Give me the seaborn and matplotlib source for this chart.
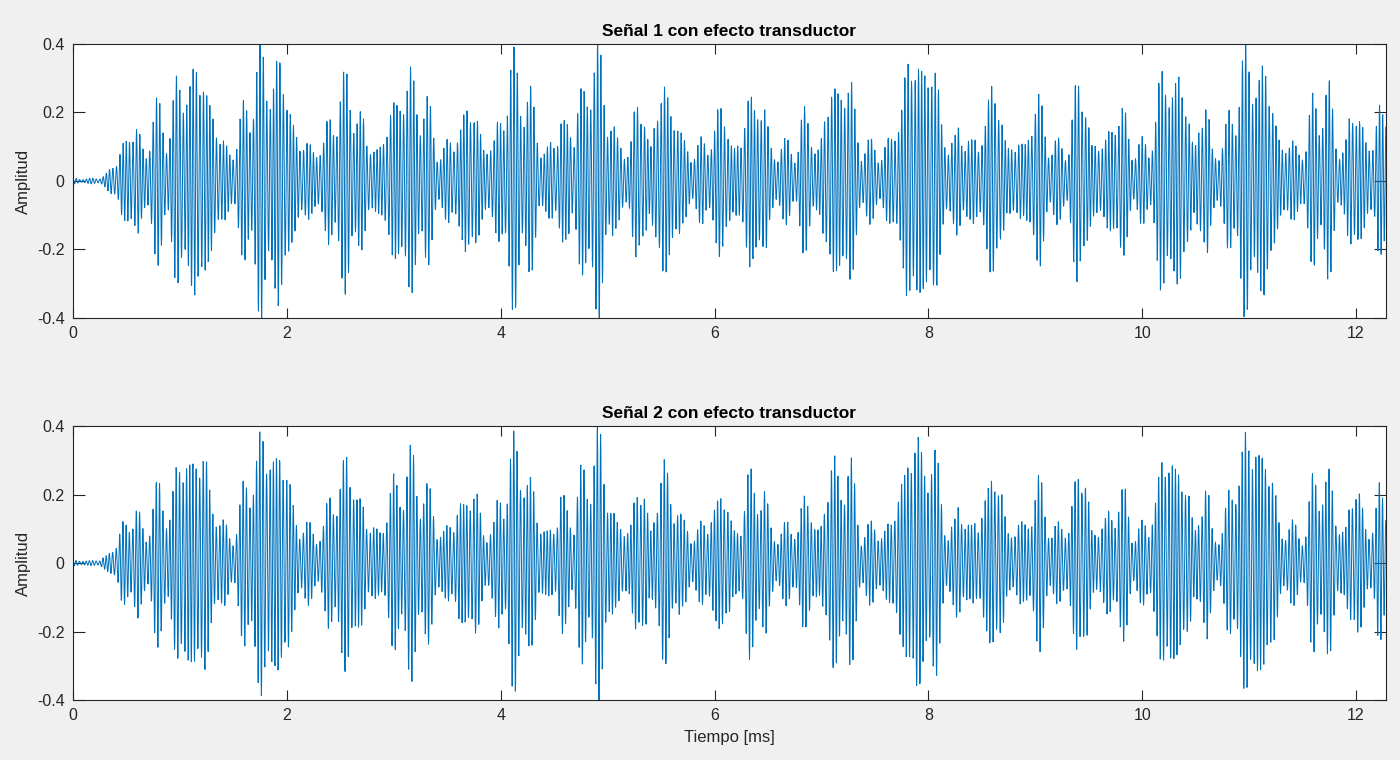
import numpy as np
import pandas as pd
import matplotlib
matplotlib.use("Agg")
import matplotlib.pyplot as plt
import seaborn as sns

# Burst envelope of each received signal: centre [ms], peak amplitude, spread [ms]
burst_center_ms = [0.55, 0.80, 1.12, 1.82, 2.55, 3.15, 3.70, 4.15, 4.60, 4.88,
                   5.30, 5.55, 6.05, 6.38, 6.85, 7.18, 7.92, 8.32, 8.60, 9.02,
                   9.42, 9.78, 10.27, 10.57, 11.03, 11.68, 12.00, 12.27]
burst_spread_ms = [0.10, 0.10, 0.20, 0.22, 0.16, 0.20, 0.13, 0.16, 0.07, 0.15,
                   0.08, 0.12, 0.11, 0.11, 0.07, 0.15, 0.20, 0.07, 0.11, 0.11,
                   0.09, 0.12, 0.16, 0.07, 0.20, 0.12, 0.09, 0.08]
peak_signal_1 = [0.16, 0.22, 0.35, 0.38, 0.30, 0.31, 0.22, 0.35, 0.21, 0.38,
                 0.23, 0.28, 0.21, 0.28, 0.20, 0.32, 0.39, 0.19, 0.27, 0.23,
                 0.29, 0.21, 0.34, 0.22, 0.38, 0.29, 0.22, 0.27]
peak_signal_2 = [0.16, 0.22, 0.35, 0.38, 0.30, 0.31, 0.22, 0.35, 0.21, 0.37,
                 0.23, 0.28, 0.21, 0.28, 0.20, 0.32, 0.38, 0.19, 0.27, 0.23,
                 0.28, 0.21, 0.34, 0.22, 0.39, 0.29, 0.22, 0.26]

# Acquisition settings
fs_khz = 400.0          # sampling rate
duration_ms = 12.28
carrier_khz = [32.0, 38.3, 26.9]
carrier_weight = [0.72, 0.18, 0.14]
floor_level = 0.11      # residual level between bursts
onset_ms = [0.25, 0.60]
burst_shape = 3.0       # flatness of each burst
gain = 1.1

titles = ["Señal 1 con efecto transductor", "Señal 2 con efecto transductor"]
x_ticks = [0, 2, 4, 6, 8, 10, 12]
y_ticks = [-0.4, -0.2, 0, 0.2, 0.4]
y_tick_labels = ["-0.4", "-0.2", "0", "0.2", "0.4"]


def received(peaks, phase):
    t = np.arange(0, duration_ms, 1.0 / fs_khz)
    c = np.array(burst_center_ms)[:, None]
    s = np.array(burst_spread_ms)[:, None]
    a = np.array(peaks)[:, None]
    u = np.abs((t[None, :] - c) / s)
    env = (a * np.exp(-0.5 * u ** burst_shape)).max(axis=0)
    ramp = np.clip((t - onset_ms[0]) / (onset_ms[1] - onset_ms[0]), 0, 1)
    env = np.maximum(env, floor_level * ramp) + 0.008
    wave = sum(w * np.cos(2 * np.pi * f * t + phase * (k + 1))
               for k, (f, w) in enumerate(zip(carrier_khz, carrier_weight)))
    wave = wave / sum(carrier_weight)
    amp = np.clip(env * wave * gain, -0.4, 0.4)
    return pd.DataFrame({"Tiempo": t, "Amplitud": amp})


frames = [received(peak_signal_1, 0.0), received(peak_signal_2, 0.35)]

sns.set_theme(style="white")
plt.rcParams["font.family"] = ["Liberation Sans", "DejaVu Sans"]
plt.rcParams["axes.unicode_minus"] = False

fig = plt.figure(figsize=(14, 7.6), dpi=100, facecolor="#f0f0f0")
positions = [[0.0521, 0.5816, 0.9379, 0.3605], [0.0521, 0.0789, 0.9379, 0.3605]]
line_color = "#0072BD"
edge = "#262626"

for i, (df, title, pos) in enumerate(zip(frames, titles, positions)):
    ax = fig.add_axes(pos)
    sns.lineplot(data=df, x="Tiempo", y="Amplitud", ax=ax, color=line_color,
                 linewidth=0.72, estimator=None, sort=False)
    ax.set_xlim(0, duration_ms)
    ax.set_ylim(-0.4, 0.4)
    ax.set_xticks(x_ticks)
    ax.set_xticklabels([str(v) for v in x_ticks])
    ax.set_yticks(y_ticks)
    ax.set_yticklabels(y_tick_labels)
    ax.set_facecolor("white")
    for sp in ax.spines.values():
        sp.set_color(edge)
        sp.set_linewidth(0.8)
        sp.set_visible(True)
    ax.tick_params(axis="both", direction="in", top=True, right=True,
                   bottom=True, left=True, colors=edge, labelsize=11.5,
                   width=0.8, pad=6)
    ax.tick_params(axis="x", length=7)
    ax.tick_params(axis="y", length=8.5)
    ax.set_title(title, fontsize=12.5, fontweight="bold", color="black", pad=6)
    ax.set_ylabel("Amplitud", fontsize=12, color=edge, labelpad=4)
    if i == 1:
        ax.set_xlabel("Tiempo [ms]", fontsize=12, color=edge, labelpad=5)
    else:
        ax.set_xlabel("")

fig.savefig("out.png", dpi=100, facecolor=fig.get_facecolor())
